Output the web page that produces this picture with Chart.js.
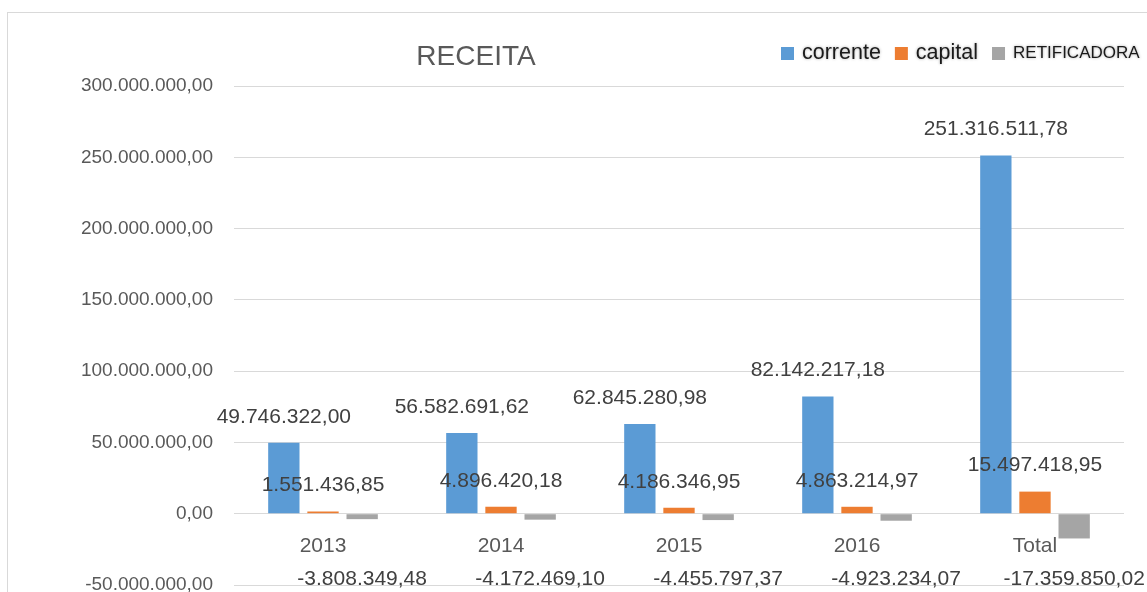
<!DOCTYPE html>
<html lang="pt-BR">
<head>
    <meta charset="UTF-8">
    <title>RECEITA</title>
    <script src="https://cdn.jsdelivr.net/npm/chart.js"></script>
    <style>
        html, body {
            margin: 0;
            padding: 0;
            background: #ffffff;
            overflow: hidden;  /* chart frame runs off the right/bottom edge */
        }
        #frame {
            position: absolute;
            left: 7px;
            top: 12px;
            width: 1300px;
            height: 800px;
            border: 1px solid #d9d9d9;
        }
        canvas {
            position: absolute;
            left: 0;
            top: 0;
        }
    </style>
</head>
<body>
    <div id="frame"></div>
    <canvas id="myChart" width="1147" height="592"></canvas>

    <script>
        // Data
        const categories = ['2013', '2014', '2015', '2016', 'Total'];
        const corrente = [49746322.00, 56582691.62, 62845280.98, 82142217.18, 251316511.78];
        const capital = [1551436.85, 4896420.18, 4186346.95, 4863214.97, 15497418.95];
        const retificadora = [-3808349.48, -4172469.10, -4455797.37, -4923234.07, -17359850.02];
        const seriesNames = ['corrente', 'capital', 'RETIFICADORA'];
        const seriesColors = ['#5B9BD5', '#ED7D31', '#A5A5A5'];
        const yMin = -50000000;
        const yMax = 300000000;
        const yStep = 50000000;

        const FONT = '"Liberation Sans", Arial, sans-serif';

        // pt-BR number format: 1.234.567,89
        function fmt(v) {
            const neg = v < 0;
            const parts = Math.abs(v).toFixed(2).split('.');
            const intPart = parts[0].replace(/\B(?=(\d{3})+(?!\d))/g, '.');
            return (neg ? '-' : '') + intPart + ',' + parts[1];
        }

        // value labels over/under each bar
        const valueLabels = {
            id: 'valueLabels',
            afterDatasetsDraw(chart) {
                const ctx = chart.ctx;
                const zeroY = chart.scales.y.getPixelForValue(0);
                ctx.save();
                ctx.font = '21px ' + FONT;
                ctx.fillStyle = '#404040';
                ctx.textAlign = 'center';
                ctx.textBaseline = 'middle';
                chart.data.datasets.forEach((ds, i) => {
                    const meta = chart.getDatasetMeta(i);
                    meta.data.forEach((bar, j) => {
                        const v = ds.data[j];
                        const y = v >= 0 ? bar.y - 26 : zeroY + 65;
                        ctx.fillText(fmt(v), bar.x, y);
                    });
                });
                ctx.restore();
            }
        };

        // title and legend drawn the way the spreadsheet placed them
        const titleAndLegend = {
            id: 'titleAndLegend',
            afterDraw(chart) {
                const ctx = chart.ctx;
                ctx.save();
                ctx.font = '28px ' + FONT;
                ctx.fillStyle = '#595959';
                ctx.textAlign = 'center';
                ctx.textBaseline = 'middle';
                ctx.fillText('RECEITA', 476, 57);

                const legendFonts = ['21.5px ' + FONT, '21.5px ' + FONT, '17px ' + FONT];
                let x = 781;
                const y = 53;
                seriesNames.forEach((name, i) => {
                    ctx.fillStyle = seriesColors[i];
                    ctx.fillRect(x, y - 6, 13, 13);
                    x += 21;
                    ctx.font = legendFonts[i];
                    ctx.textAlign = 'left';
                    ctx.fillStyle = '#1a1a1a';
                    ctx.shadowColor = 'rgba(0,0,0,0.35)';
                    ctx.shadowBlur = 3;
                    ctx.fillText(name, x, y);
                    ctx.shadowBlur = 0;
                    ctx.shadowColor = 'transparent';
                    x += ctx.measureText(name).width + 14;
                });
                ctx.restore();
            }
        };

        const ctx = document.getElementById('myChart').getContext('2d');
        const chart = new Chart(ctx, {
            type: 'bar',
            data: {
                labels: categories,
                datasets: [corrente, capital, retificadora].map((d, i) => ({
                    label: seriesNames[i],
                    data: d,
                    backgroundColor: seriesColors[i],
                    borderWidth: 0,
                    categoryPercentage: 0.66,
                    barPercentage: 0.8
                }))
            },
            options: {
                responsive: false,
                animation: false,
                layout: {
                    padding: { left: 0, top: 86, right: 23, bottom: 7 }
                },
                plugins: {
                    legend: { display: false },
                    title: { display: false },
                    tooltip: { enabled: false }
                },
                scales: {
                    x: {
                        axis: 'x',
                        position: { y: 0 },
                        grid: { display: false, drawTicks: false },
                        border: { display: false },
                        ticks: {
                            color: '#595959',
                            font: { family: FONT, size: 21 },
                            padding: 20
                        }
                    },
                    y: {
                        min: yMin,
                        max: yMax,
                        grid: { color: '#d9d9d9', lineWidth: 1, drawTicks: false },
                        border: { display: false },
                        ticks: {
                            stepSize: yStep,
                            color: '#595959',
                            font: { family: FONT, size: 19 },
                            padding: 21,
                            callback: (v) => fmt(v)
                        },
                        afterFit(scale) {
                            scale.width = 234;
                            scale.paddingTop = 0;
                            scale.paddingBottom = 0;
                        }
                    }
                }
            },
            plugins: [valueLabels, titleAndLegend]
        });
    </script>
</body>
</html>
